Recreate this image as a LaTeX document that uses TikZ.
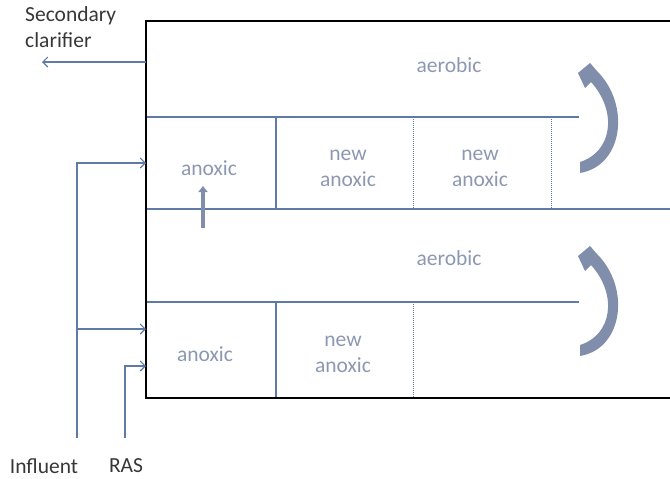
\documentclass[tikz,border=0pt]{standalone}
\usepackage{fontspec}
\setmainfont{Carlito}
\usetikzlibrary{arrows.meta}
\definecolor{ln}{RGB}{95,122,165}
\definecolor{tx}{RGB}{140,152,178}
\definecolor{lb}{RGB}{55,55,55}
\definecolor{ca}{RGB}{128,142,172}
\begin{document}
\begin{tikzpicture}[x=1pt,y=-1pt,
  wall/.style={line width=2.4pt,black},
  part/.style={line width=1.1pt,ln},
  dpart/.style={line width=1pt,ln,densely dotted},
  flow/.style={line width=1.1pt,ln,-{Straight Barb[length=5pt,width=10pt,line width=1.1pt]}},
  zone/.style={text=tx,font=\fontsize{21.5}{26}\selectfont,align=center,inner sep=0pt},
  lbl/.style={text=lb,font=\fontsize{21.5}{26}\selectfont,inner sep=0pt},
  curv/.style={fill=ca,draw=none}]
\useasboundingbox (0,0) rectangle (670,479);
% partitions
\coordinate (m1) at (146,117); \coordinate (m1e) at (579,117);
\coordinate (m2) at (146,209); \coordinate (m2e) at (670,209);
\coordinate (m3) at (146,302); \coordinate (m3e) at (579,302);
\draw[part] (m1) -- (m1e);
\draw[part] (m2) -- (m2e);
\draw[part] (m3) -- (m3e);
\coordinate (v1t) at (276,117); \coordinate (v1b) at (276,209);
\coordinate (v2t) at (413,117); \coordinate (v2b) at (413,209);
\coordinate (v3t) at (551,117); \coordinate (v3b) at (551,209);
\coordinate (v4t) at (276,302); \coordinate (v4b) at (276,398);
\coordinate (v5t) at (413,302); \coordinate (v5b) at (413,398);
\draw[part] (v1t) -- (v1b);
\draw[dpart] (v2t) -- (v2b);
\draw[dpart] (v3t) -- (v3b);
\draw[part] (v4t) -- (v4b);
\draw[dpart] (v5t) -- (v5b);
% walls
\coordinate (tr) at (671,21); \coordinate (tl) at (146,21);
\coordinate (bl) at (146,398); \coordinate (br) at (671,398);
\draw[wall] (tr) -- (tl) -- (bl) -- (br);
% texts
\node[zone] (ae1) at (449,65) {aerobic};
\node[zone] (an1) at (209,168) {anoxic};
\node[zone] (na1) at (348,168) {new\\anoxic};
\node[zone] (na2) at (480,168) {new\\anoxic};
\node[zone] (ae2) at (449,258) {aerobic};
\node[zone] (an2) at (205,354) {anoxic};
\node[zone] (na3) at (343,354) {new\\anoxic};
\node[lbl,align=left,anchor=north west] (sc) at (25,6) {Secondary\\clarifier};
\node[lbl] (inf) at (44,466) {Influent};
\node[lbl] (ras) at (126,466) {RAS};
% flows
\coordinate (scs) at (146,62); \coordinate (sce) at (42,62);
\draw[flow] (scs) -- (sce);
\coordinate (i0) at (77,438); \coordinate (i1) at (77,163); \coordinate (i1e) at (146,163);
\coordinate (i2) at (77,329); \coordinate (i2e) at (146,329);
\draw[flow] (i0) -- (i1) -- (i1e);
\draw[flow] (i2) -- (i2e);
\coordinate (r0) at (125,438); \coordinate (r1) at (125,366); \coordinate (r1e) at (146,366);
\draw[flow] (r0) -- (r1) -- (r1e);
% small up arrow
\coordinate (ua0) at (203,228); \coordinate (ua1) at (203,186);
\draw[line width=4pt,ca,-{Triangle[length=6pt,width=9pt]}] (ua0) -- (ua1);
% curved arrows
\foreach \dy in {0,183}{
\begin{scope}[yshift=-\dy pt]
\fill[ca] (580,162) .. controls (612,152) and (618,112) .. (591,82)
  -- (585,88) -- (578,73) -- (590,63) -- (597,71)
  .. controls (631,105) and (623,166) .. (580,173) -- cycle;
\end{scope}}
\end{tikzpicture}
\end{document}
